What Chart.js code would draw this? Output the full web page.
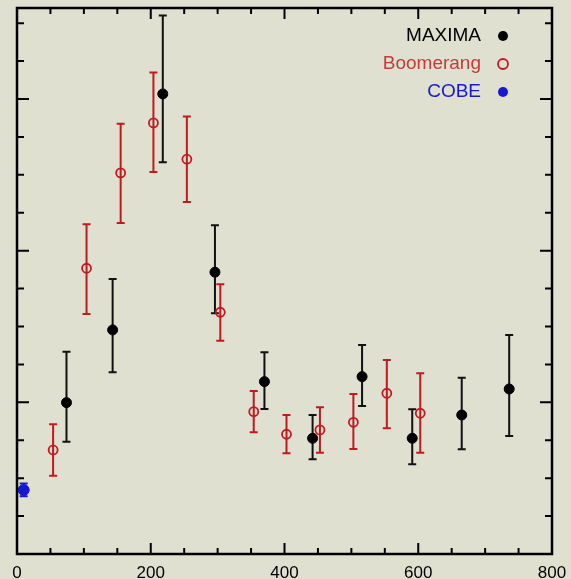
<!DOCTYPE html>
<html>
<head>
<meta charset="utf-8">
<script src="https://cdn.jsdelivr.net/npm/chart.js@4/dist/chart.umd.min.js"></script>
<style>
  html, body { margin: 0; padding: 0; background: #dfe0d0; }
  canvas { display: block; }
</style>
</head>
<body>
<canvas id="myChart" width="571" height="579"></canvas>
<script>
// multipole l and band power (uK^2), with 1-sigma bounds
var maximaL  = [74, 143, 218, 296, 370, 442, 516, 591, 665, 736];
var maximaY  = [1996, 2955, 6067, 3716, 2273, 1526, 2339, 1526, 1833, 2176];
var maximaLo = [1481, 2397, 5166, 3175, 1913, 1249, 1952, 1183, 1381, 1556];
var maximaHi = [2668, 3627, 7100, 4336, 2660, 1833, 2757, 1909, 2325, 2889];

var boomL  = [54, 104, 155, 204, 254, 304, 354, 403, 453, 503, 553, 603];
var boomY  = [1372, 3768, 5025, 5685, 5206, 3188, 1877, 1579, 1636, 1737, 2120, 1856];
var boomLo = [1033, 3166, 4366, 5039, 4643, 2813, 1605, 1328, 1336, 1385, 1658, 1336];
var boomHi = [1711, 4349, 5672, 6348, 5768, 3557, 2150, 1833, 1935, 2110, 2559, 2383];

var cobeL  = [10];
var cobeY  = [844];
var cobeLo = [760];
var cobeHi = [930];

var xTicks = [0, 200, 400, 600, 800];

function pts(xs, ys) {
  return xs.map(function (x, i) { return { x: x, y: ys[i] }; });
}

var extras = {
  id: 'extras',
  beforeDatasetsDraw: function (chart) {
    var ctx = chart.ctx, xs = chart.scales.x, ys = chart.scales.y;
    chart.data.datasets.forEach(function (ds) {
      ctx.save();
      ctx.strokeStyle = ds.errColor;
      ctx.lineWidth = ds.errWidth;
      ds.data.forEach(function (p, i) {
        var px = xs.getPixelForValue(p.x);
        var lo = ys.getPixelForValue(ds.errLo[i]);
        var hi = ys.getPixelForValue(ds.errHi[i]);
        ctx.beginPath();
        ctx.moveTo(px, lo); ctx.lineTo(px, hi);
        ctx.moveTo(px - 4, lo); ctx.lineTo(px + 4, lo);
        ctx.moveTo(px - 4, hi); ctx.lineTo(px + 4, hi);
        ctx.stroke();
      });
      ctx.restore();
    });
  },
  afterDraw: function (chart) {
    var ctx = chart.ctx, a = chart.chartArea, xs = chart.scales.x, ys = chart.scales.y;
    ctx.save();
    ctx.strokeStyle = '#000';
    // inward ticks on all four sides
    ctx.lineWidth = 2;
    ctx.beginPath();
    for (var v = 50; v < 800; v += 50) {
      var px = xs.getPixelForValue(v);
      var len = (v % 200 === 0) ? 11 : 6;
      ctx.moveTo(px, a.bottom); ctx.lineTo(px, a.bottom - len);
      ctx.moveTo(px, a.top); ctx.lineTo(px, a.top + len);
    }
    for (var w = 500; w <= 7000; w += 500) {
      var py = ys.getPixelForValue(w);
      var l2 = (w % 2000 === 0) ? 12 : 7;
      ctx.moveTo(a.left, py); ctx.lineTo(a.left + l2, py);
      ctx.moveTo(a.right, py); ctx.lineTo(a.right - l2, py);
    }
    ctx.stroke();
    // frame
    ctx.lineWidth = 2.5;
    ctx.strokeRect(a.left, a.top, a.right - a.left, a.bottom - a.top);

    // legend, top right inside the plot
    ctx.font = '19px "Liberation Sans", Arial, sans-serif';
    ctx.textAlign = 'right';
    ctx.textBaseline = 'middle';
    chart.data.datasets.forEach(function (ds, i) {
      var ty = a.top + 28 + i * 28;
      ctx.fillStyle = ds.legendColor;
      ctx.fillText(ds.label, a.right - 71, ty);
      ctx.beginPath();
      ctx.arc(a.right - 49, ty, 5, 0, Math.PI * 2);
      if (ds.pointBackgroundColor === 'transparent') {
        ctx.lineWidth = 1.8;
        ctx.strokeStyle = ds.pointBorderColor;
        ctx.stroke();
      } else {
        ctx.fillStyle = ds.pointBackgroundColor;
        ctx.fill();
      }
    });
    ctx.restore();
  }
};

var ctx = document.getElementById('myChart').getContext('2d');
var chart = new Chart(ctx, {
  type: 'scatter',
  data: {
    datasets: [{
      label: 'MAXIMA',
      data: pts(maximaL, maximaY),
      errLo: maximaLo, errHi: maximaHi,
      errColor: '#111', errWidth: 2,
      legendColor: '#000',
      pointRadius: 5,
      pointBackgroundColor: '#000',
      pointBorderColor: '#000'
    }, {
      label: 'Boomerang',
      data: pts(boomL, boomY),
      errLo: boomLo, errHi: boomHi,
      errColor: '#c41820', errWidth: 2,
      legendColor: '#c83a3a',
      pointRadius: 4.5,
      pointBorderWidth: 1.8,
      pointBackgroundColor: 'transparent',
      pointBorderColor: '#c41820'
    }, {
      label: 'COBE',
      data: pts(cobeL, cobeY),
      errLo: cobeLo, errHi: cobeHi,
      errColor: '#1818d0', errWidth: 2,
      legendColor: '#1818d0',
      pointRadius: 5.5,
      pointBackgroundColor: '#1818d0',
      pointBorderColor: '#1818d0'
    }]
  },
  options: {
    responsive: false,
    animation: false,
    layout: { padding: { left: 17, top: 8, right: 19, bottom: 0 } },
    plugins: { legend: { display: false }, tooltip: { enabled: false } },
    scales: {
      x: {
        type: 'linear', min: 0, max: 800,
        afterBuildTicks: function (s) { s.ticks = xTicks.map(function (v) { return { value: v }; }); },
        afterFit: function (s) { s.height = 25; s.paddingLeft = 0; s.paddingRight = 0; },
        grid: { display: false, drawTicks: false },
        border: { display: false },
        ticks: { padding: 9, color: '#000', font: { family: '"Liberation Sans", Arial, sans-serif', size: 17 } }
      },
      y: { type: 'linear', min: 0, max: 7200, display: false }
    }
  },
  plugins: [extras]
});
</script>
</body>
</html>
